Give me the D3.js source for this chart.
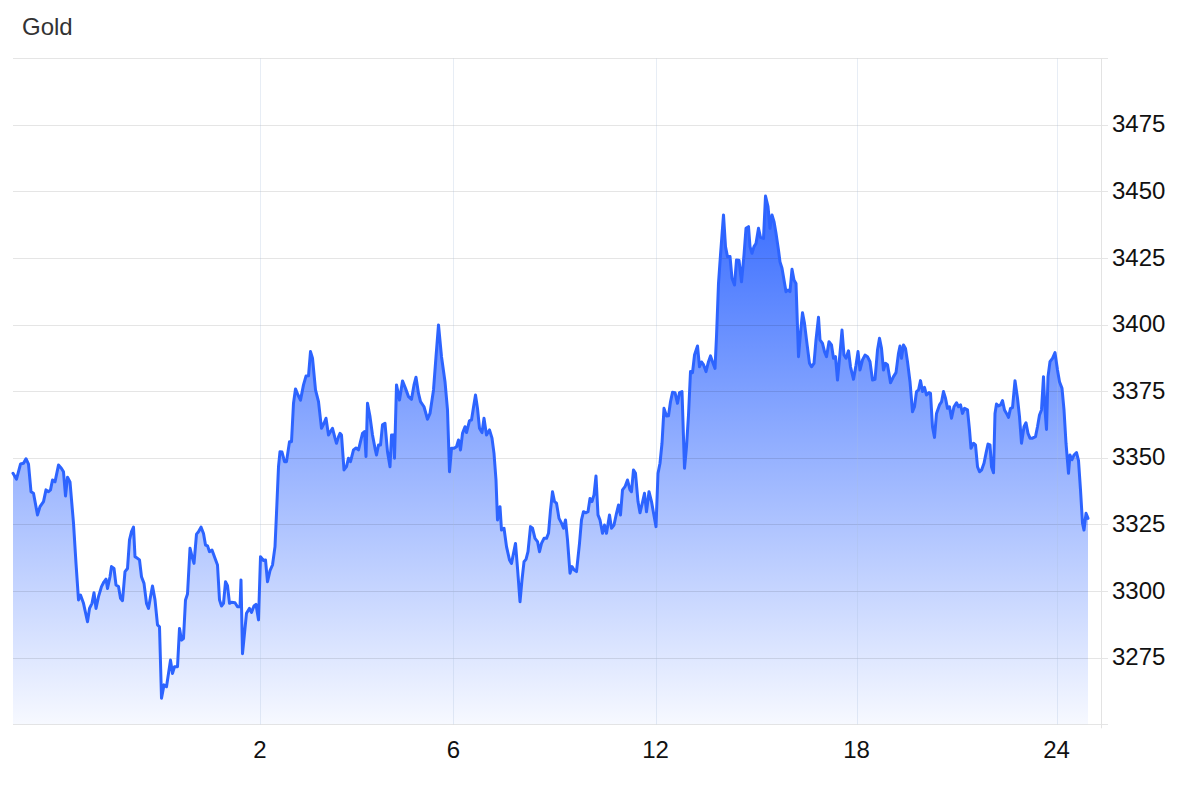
<!DOCTYPE html>
<html><head><meta charset="utf-8">
<script src="https://cdn.jsdelivr.net/npm/d3@7"></script>
<style>
html,body{margin:0;padding:0;background:#fff;}
svg{display:block;font-family:"Liberation Sans",Arial,Helvetica,sans-serif;}
</style>
</head><body>
<svg id="chart" width="1200" height="786"></svg>
<script>
// ---- data (x = 15-minute bar index from start of window, price in USD/oz) ----
const title = "Gold";
const yTickValues = [3275, 3300, 3325, 3350, 3375, 3400, 3425, 3450, 3475];
const yGridValues = [3250, 3275, 3300, 3325, 3350, 3375, 3400, 3425, 3450, 3475, 3500];
const xTickLabels = ["2", "6", "12", "18", "24"];
const xTickBars = [494, 881, 1285, 1687, 2087];
const xDomain = [0, 2176];
const yDomain = [3250, 3500];

const week1 = [[0,3344.2],[7,3342.0],[15,3347.7],[21,3348.0],[26,3349.7],[31,3347.7],[36,3337.3],[41,3336.7],[49,3328.6],[54,3331.7],[61,3333.6],[66,3338.0],[71,3337.3],[75,3338.0],[79,3341.7],[84,3341.0],[91,3347.3],[97,3346.0],[101,3344.8],[105,3335.7],[109,3342.7],[114,3341.0],[121,3325.5],[126,3310.4],[131,3296.7],[135,3298.5],[141,3295.4],[149,3288.5],[153,3293.5],[158,3295.4],[162,3299.4],[166,3293.5],[171,3297.9],[177,3301.7],[182,3303.5],[186,3304.5],[189,3301.0],[194,3305.4],[197,3309.2],[202,3308.5],[206,3302.3],[211,3301.7],[215,3297.3],[219,3296.4],[224,3307.3],[229,3308.5],[233,3319.2],[237,3322.3],[241,3324.0],[244,3312.9],[249,3312.3],[253,3311.7],[257,3305.4],[262,3302.9],[267,3295.4],[271,3293.5],[275,3297.9],[279,3301.9],[284,3296.7],[289,3287.3],[293,3286.6],[297,3259.8],[302,3264.8],[307,3264.1],[311,3269.1],[315,3274.1],[319,3269.1],[323,3271.6],[329,3271.6],[333,3286.0],[337,3281.6],[341,3282.2],[345,3296.7],[349,3298.9],[354,3316.1],[358,3313.0],[362,3310.4],[367,3321.4],[371,3322.3],[376,3324.0],[381,3321.6],[385,3317.3],[389,3317.0],[393,3314.8],[398,3315.4],[404,3312.3],[409,3309.8],[413,3296.7],[417,3294.4],[421,3295.4],[425,3303.5],[429,3302.0],[433,3295.4],[437,3295.8],[444,3295.6],[449,3294.1],[454,3294.1],[456,3304.2],[459,3276.5],[467,3291.7],[473,3293.5],[477,3292.0],[482,3294.4],[486,3295.0],[491,3289.2]];

const week2 = [[495,3312.9],[501,3311.5],[505,3311.7],[509,3303.5],[514,3307.7],[519,3309.8],[524,3316.7],[527,3329.2],[531,3346.7],[534,3352.3],[538,3352.2],[543,3348.6],[547,3348.6],[553,3356.1],[557,3356.1],[561,3370.5],[565,3375.9],[570,3373.6],[575,3371.7],[581,3377.4],[586,3380.7],[591,3380.8],[595,3389.9],[599,3387.4],[605,3375.5],[611,3371.1],[617,3361.1],[622,3363.0],[626,3364.9],[631,3358.6],[635,3359.9],[639,3361.1],[644,3357.4],[647,3355.5],[651,3357.9],[654,3359.2],[657,3358.6],[662,3345.5],[667,3346.7],[671,3349.9],[675,3348.6],[681,3353.0],[686,3353.7],[691,3353.0],[695,3356.1],[699,3359.2],[703,3359.9],[706,3350.5],[709,3370.5],[714,3365.5],[719,3358.6],[724,3353.6],[727,3351.1],[731,3354.8],[735,3354.8],[739,3362.4],[744,3363.0],[749,3352.3],[754,3346.7],[757,3358.6],[761,3358.6],[763,3349.9],[767,3377.4],[773,3371.7],[779,3378.9],[785,3376.1],[791,3373.0],[797,3372.0],[802,3377.4],[806,3380.3],[811,3374.2],[815,3371.1],[822,3369.2],[829,3364.5],[834,3366.7],[841,3375.5],[846,3388.0],[851,3399.9],[857,3388.0],[864,3378.6],[869,3368.0],[873,3344.8],[877,3353.6]];

const week3 = [[882,3353.6],[887,3354.2],[891,3356.7],[895,3353.0],[899,3359.2],[904,3361.7],[907,3359.5],[913,3364.0],[917,3364.2],[921,3369.0],[925,3373.6],[929,3368.6],[933,3361.1],[938,3359.5],[942,3364.9],[947,3358.6],[953,3360.5],[958,3357.4],[962,3351.7],[966,3341.7],[969,3326.7],[974,3331.7],[977,3322.9],[982,3323.6],[987,3316.7],[993,3311.7],[997,3310.4],[1001,3314.2],[1005,3317.9],[1009,3308.6],[1014,3296.0],[1018,3304.2],[1022,3311.0],[1026,3311.9],[1030,3314.8],[1035,3324.2],[1039,3323.6],[1044,3319.8],[1049,3318.6],[1053,3314.8],[1057,3317.9],[1062,3319.8],[1067,3319.8],[1071,3321.7],[1075,3330.4],[1079,3337.3],[1083,3333.6],[1087,3333.0],[1092,3327.3],[1097,3325.5],[1101,3323.6],[1105,3326.7],[1109,3319.2],[1114,3306.7],[1118,3309.2],[1122,3308.0],[1127,3307.3],[1133,3317.9],[1137,3326.7],[1141,3329.8],[1146,3329.4],[1150,3329.8],[1154,3334.8],[1158,3333.6],[1162,3336.1],[1166,3343.2],[1170,3328.6],[1174,3326.7],[1179,3321.7],[1183,3324.8],[1187,3321.7],[1193,3328.6],[1197,3323.6],[1202,3324.8],[1207,3329.2],[1211,3332.3],[1215,3328.6],[1219,3338.0],[1224,3339.2],[1229,3341.7],[1234,3338.0],[1237,3337.3],[1241,3345.5],[1245,3344.2],[1250,3333.6],[1254,3329.4],[1259,3333.3],[1263,3336.7],[1267,3329.8],[1272,3337.3],[1277,3333.6],[1281,3329.4]];

const week4 = [[1286,3324.2],[1290,3344.2],[1294,3348.0],[1298,3355.5],[1302,3368.6],[1307,3365.7],[1311,3365.8],[1315,3371.1],[1319,3374.6],[1324,3374.5],[1329,3370.5],[1333,3374.5],[1338,3374.9],[1343,3346.1],[1347,3354.2],[1351,3366.1],[1355,3382.4],[1359,3382.0],[1363,3388.6],[1369,3392.0],[1373,3384.2],[1377,3386.0],[1381,3385.0],[1386,3382.4],[1391,3386.1],[1395,3388.3],[1399,3386.1],[1404,3383.6],[1407,3395.5],[1411,3415.5],[1415,3426.2],[1421,3441.2],[1425,3429.3],[1429,3425.5],[1434,3425.6],[1438,3417.4],[1443,3414.9],[1447,3424.3],[1452,3424.2],[1457,3416.1],[1462,3426.2],[1466,3436.2],[1471,3436.8],[1474,3429.3],[1478,3426.8],[1482,3429.3],[1486,3430.5],[1491,3436.2],[1495,3432.8],[1501,3432.4],[1505,3448.3],[1510,3444.3],[1514,3436.2],[1518,3441.2],[1522,3438.7],[1526,3434.3],[1531,3428.0],[1534,3423.6],[1538,3421.2],[1542,3416.8],[1546,3412.4],[1550,3413.0],[1554,3412.4],[1558,3420.8],[1562,3416.8],[1566,3415.5],[1571,3388.0],[1575,3396.8],[1579,3404.5],[1583,3400.5],[1587,3394.3],[1593,3385.5],[1597,3384.2],[1602,3385.5],[1606,3394.3],[1611,3402.8],[1614,3394.3],[1619,3393.0],[1623,3389.9],[1627,3388.0],[1632,3393.6],[1637,3392.4],[1641,3387.4],[1645,3388.0],[1649,3379.2],[1654,3389.3],[1658,3398.0],[1662,3388.6],[1666,3387.4],[1671,3390.2],[1675,3384.2],[1681,3379.5],[1686,3384.8]];

const week5 = [[1690,3389.9],[1694,3383.0],[1699,3386.8],[1704,3388.6],[1709,3388.0],[1714,3386.1],[1719,3379.2],[1724,3379.5],[1729,3390.5],[1733,3394.9],[1737,3391.1],[1741,3383.0],[1745,3385.5],[1749,3385.0],[1755,3378.2],[1761,3380.5],[1766,3382.0],[1771,3389.3],[1774,3392.0],[1777,3387.4],[1781,3392.4],[1785,3391.1],[1789,3386.1],[1794,3378.6],[1799,3367.3],[1803,3369.2],[1807,3374.9],[1811,3375.5],[1815,3379.0],[1819,3374.9],[1823,3376.5],[1827,3373.6],[1832,3374.5],[1835,3374.2],[1839,3361.7],[1843,3357.7],[1847,3366.7],[1853,3369.9],[1857,3371.0],[1861,3374.9],[1865,3372.4],[1869,3368.6],[1873,3369.2],[1877,3364.9],[1882,3369.2],[1887,3370.7],[1891,3369.2],[1895,3369.9],[1899,3366.7],[1903,3368.6],[1909,3368.0],[1913,3360.5],[1916,3353.6],[1921,3355.5],[1925,3354.9],[1929,3346.7],[1933,3344.8],[1937,3345.4],[1942,3348.0],[1946,3351.7],[1950,3355.2],[1954,3354.9],[1957,3346.7],[1961,3344.4],[1964,3366.7],[1967,3370.2],[1971,3369.5],[1975,3369.9],[1979,3371.5],[1983,3368.0],[1987,3366.7],[1991,3365.2],[1995,3368.6],[1999,3368.9],[2004,3379.0],[2009,3372.4],[2013,3365.5],[2017,3355.5],[2022,3361.7],[2026,3363.2],[2030,3359.2],[2034,3357.4],[2039,3357.4],[2045,3358.0],[2049,3361.7],[2053,3366.1],[2057,3368.0],[2061,3380.5],[2064,3368.0],[2067,3360.7],[2070,3380.5],[2074,3386.1],[2079,3387.4],[2084,3389.5],[2089,3383.0],[2093,3378.6],[2098,3376.1],[2102,3368.0],[2106,3355.5],[2111,3344.2],[2114,3351.1],[2118,3349.3],[2122,3351.1],[2127,3352.0],[2131,3349.0],[2135,3338.0],[2139,3325.5],[2142,3322.9],[2146,3329.2],[2150,3327.3]];

// ---- chart ----
const data = [].concat(week1, week2, week3, week4, week5).map(([t, v]) => ({t, v}));

const W = 1200, H = 786;
const plot = {left: 13, right: 1101, top: 58.3, bottom: 724.3};
const lineColor = "#2d64ff";

const svg = d3.select("#chart");
const x = d3.scaleLinear().domain(xDomain).range([plot.left, plot.right]);
const y = d3.scaleLinear().domain(yDomain).range([plot.bottom, plot.top]);

const defs = svg.append("defs");
const grad = defs.append("linearGradient")
  .attr("id", "areaFill")
  .attr("gradientUnits", "userSpaceOnUse")
  .attr("x1", 0).attr("x2", 0)
  .attr("y1", y(d3.max(data, d => d.v)))
  .attr("y2", y(yDomain[0]));
grad.append("stop").attr("offset", 0).attr("stop-color", lineColor).attr("stop-opacity", 0.95);
grad.append("stop").attr("offset", 1).attr("stop-color", lineColor).attr("stop-opacity", 0.04);

// area
const area = d3.area().x(d => x(d.t)).y0(y(yDomain[0])).y1(d => y(d.v));
svg.append("path").datum(data).attr("d", area).attr("fill", "url(#areaFill)");

// horizontal gridlines (drawn over the fill)
svg.append("g").selectAll("line").data(yGridValues).join("line")
  .attr("x1", plot.left).attr("x2", plot.right + 7)
  .attr("y1", d => Math.round(y(d)) + 0.5).attr("y2", d => Math.round(y(d)) + 0.5)
  .attr("stroke", "rgba(0,0,0,0.1)").attr("stroke-width", 1);

// vertical gridlines
svg.append("g").selectAll("line").data(xTickBars).join("line")
  .attr("x1", d => Math.round(x(d)) + 0.5).attr("x2", d => Math.round(x(d)) + 0.5)
  .attr("y1", plot.top).attr("y2", plot.bottom)
  .attr("stroke", "rgba(170,190,220,0.28)").attr("stroke-width", 1);

// right axis line
svg.append("line")
  .attr("x1", Math.round(plot.right) + 0.5).attr("x2", Math.round(plot.right) + 0.5)
  .attr("y1", plot.top).attr("y2", plot.bottom + 4)
  .attr("stroke", "#e3e3e3").attr("stroke-width", 1);

// price line
const line = d3.line().x(d => x(d.t)).y(d => y(d.v));
svg.append("path").datum(data).attr("d", line)
  .attr("fill", "none").attr("stroke", lineColor)
  .attr("stroke-width", 3).attr("stroke-linejoin", "round").attr("stroke-linecap", "round");

// y labels
svg.append("g").selectAll("text").data(yTickValues).join("text")
  .attr("x", plot.right + 11).attr("y", d => y(d) + 7.5)
  .attr("font-size", 24).attr("fill", "#111")
  .text(d => d);

// x labels
svg.append("g").selectAll("text").data(xTickBars).join("text")
  .attr("x", d => x(d)).attr("y", 758)
  .attr("text-anchor", "middle").attr("font-size", 24).attr("fill", "#111")
  .text((d, i) => xTickLabels[i]);

// title
svg.append("text").attr("x", 22).attr("y", 35)
  .attr("font-size", 24).attr("fill", "#333").text(title);
</script>
</body></html>
